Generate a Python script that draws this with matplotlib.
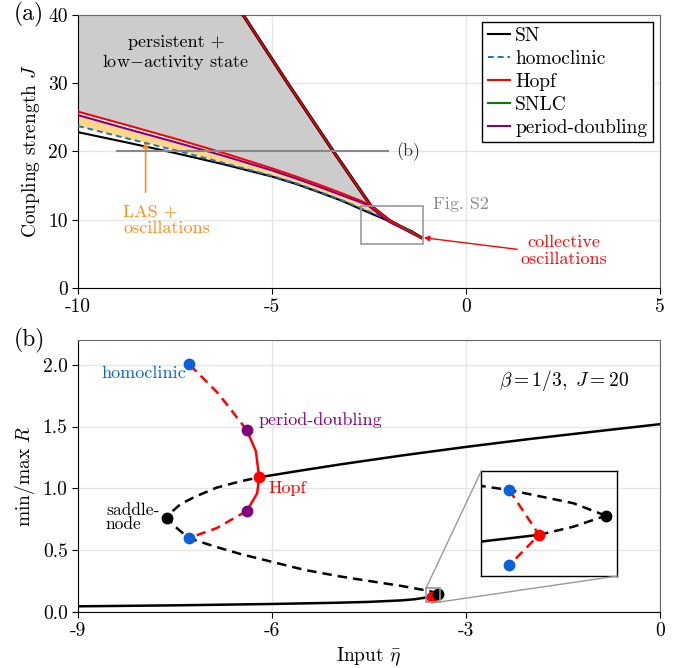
import numpy as np
import matplotlib.pyplot as plt
from matplotlib.patches import Rectangle, ConnectionPatch

plt.rcParams['font.family'] = 'serif'
plt.rcParams['font.serif'] = ['cmr10']
plt.rcParams['mathtext.fontset'] = 'cm'
plt.rcParams['axes.unicode_minus'] = False
plt.rcParams['font.size'] = 14

# ---- panel (a): two-parameter bifurcation diagram ----
sn_low_x = [-10, -8.75, -7.5, -6.25, -5, -4.4, -3.76, -3.2, -2.68, -1.87, -1.4, -1.16]
sn_low_J = [22.8, 21.3, 19.75, 18.1, 16.3, 15.25, 13.95, 12.75, 11.45, 9.5, 8.3, 7.4]
sn_up_x = [-5.75, -4.6, -3.42, -2.45, -1.96, -1.16]
sn_up_J = [40, 30, 20, 12.0, 9.8, 7.4]
hom_x = [-10, -8.75, -7.5, -6.25, -5, -4.4, -3.76, -3.2, -2.68, -2.2]
hom_J = [23.7, 21.9, 20.15, 18.3, 16.4, 15.35, 14.05, 12.85, 11.6, 10.5]
hopf_x = [-10, -8.75, -7.5, -6.25, -5, -4.4, -3.76, -3.2, -2.73, -2.45, -1.96, -1.16]
hopf_J = [25.8, 23.85, 21.85, 19.75, 17.5, 16.35, 15.05, 13.85, 12.8, 12.0, 9.8, 7.4]
pd_x = [-10, -8.75, -7.5, -6.25, -5, -4.4, -3.76, -3.2, -2.56, -1.96, -1.16]
pd_J = [25.3, 23.3, 21.35, 19.35, 17.2, 16.05, 14.75, 13.55, 12.2, 9.6, 7.4]
snlc_x = [-1.87, -1.6, -1.4, -1.2]
snlc_J = [9.5, 8.8, 8.25, 7.5]

# ---- panel (b): one-parameter diagram at J = 20 ----
low_x = [-9, -7.5, -6, -5, -4.5, -4.0, -3.8, -3.62, -3.531]
low_R = [0.045, 0.053, 0.064, 0.074, 0.081, 0.093, 0.102, 0.116, 0.123]
mid_x = [-3.428, -3.478, -3.577, -3.62, -4.0, -4.5, -4.95, -5.5, -6.0, -6.5, -6.86,
         -7.1, -7.29, -7.47, -7.62, -7.55, -7.42, -7.2, -6.86, -6.5, -6.2]
mid_R = [0.143, 0.156, 0.1698, 0.174, 0.21, 0.25, 0.287, 0.34, 0.405, 0.47, 0.525,
         0.565, 0.597, 0.677, 0.758, 0.81, 0.87, 0.93, 1.005, 1.055, 1.089]
mid2_x = [-3.531, -3.478, -3.428]
mid2_R = [0.123, 0.1315, 0.143]
up_x = [-6.2, -5.6, -4.95, -4.0, -3.0, -2.0, -1.0, 0]
up_R = [1.089, 1.14, 1.193, 1.265, 1.335, 1.40, 1.46, 1.519]

lcmax_x = [-6.2, -6.25, -6.39]
lcmax_R = [1.089, 1.3, 1.47]
lcmax_u_x = [-6.39, -6.83, -7.29]
lcmax_u_R = [1.47, 1.766, 2.008]
lcmin_x = [-6.2, -6.23, -6.39]
lcmin_R = [1.089, 0.96, 0.817]
lcmin_u_x = [-6.39, -6.86, -7.29]
lcmin_u_R = [0.817, 0.677, 0.597]
lc2_x = [-3.577, -3.531, -3.577]
lc2_R = [0.1698, 0.123, 0.0912]

hom_pts_x = [-7.29, -7.29]
hom_pts_R = [2.008, 0.597]
hom2_pts_x = [-3.577, -3.577]
hom2_pts_R = [0.1698, 0.0912]
pd_pts_x = [-6.39, -6.39]
pd_pts_R = [1.47, 0.817]
hopf_pts_x = [-6.2, -3.531]
hopf_pts_R = [1.089, 0.123]
sn_pts_x = [-7.62, -3.428]
sn_pts_R = [0.758, 0.143]

c_blue = '#1f77b4'
c_dot = '#0a62d8'
c_purple = '#800080'
c_orange = '#ff8c1a'
dash = (0, (3.8, 2.4))
fs_note = 13

fig = plt.figure(figsize=(6.79, 6.68), dpi=100)
ax1 = fig.add_axes([0.115, 0.569, 0.857, 0.409])
ax2 = fig.add_axes([0.115, 0.084, 0.857, 0.407])

for ax in (ax1, ax2):
    ax.grid(True, color='#e6e6e6', lw=1)
    ax.set_axisbelow(True)
    ax.tick_params(direction='out', length=4, top=False, right=False)
    for s in ('top', 'right'):
        ax.spines[s].set_color('0.4')

# panel (a)
n_gray = hopf_x.index(-2.45) + 1
gx = hopf_x[:n_gray] + sn_up_x[2::-1] + [-10]
gy = hopf_J[:n_gray] + sn_up_J[2::-1] + [40]
ax1.fill(gx, gy, color='#cccccc', lw=0, zorder=1)
ox = hom_x + pd_x[::-1][1:]
oy = hom_J + pd_J[::-1][1:]
ax1.fill(ox, oy, color='#ffd68a', lw=0, zorder=1)

ax1.plot(sn_low_x, sn_low_J, color='k', lw=1.5, zorder=3, label='SN')
ax1.plot(sn_up_x, sn_up_J, color='k', lw=2.4, zorder=3)
ax1.plot(hom_x, hom_J, color=c_blue, lw=1.4, ls=(0, (3, 2)), zorder=4, label='homoclinic')
ax1.plot(hopf_x, hopf_J, color='red', lw=1.5, zorder=4, label='Hopf')
ax1.plot(sn_up_x, sn_up_J, color='red', lw=1.2, zorder=5)
ax1.plot(snlc_x, snlc_J, color='green', lw=1.5, zorder=4, label='SNLC')
ax1.plot(pd_x, pd_J, color=c_purple, lw=1.5, zorder=4, label='period-doubling')

ax1.plot([-9, -2], [20, 20], color='#888888', lw=1.5, zorder=6)
ax1.text(-1.8, 20, '(b)', va='center', ha='left', color='#333333', fontsize=fs_note)
ax1.add_patch(Rectangle((-2.7, 6.5), 1.6, 5.5, fill=False, ec='#999999', lw=1.2, zorder=6))
ax1.text(-0.86, 12.2, 'Fig. S2', va='center', ha='left', color='#888888', fontsize=fs_note)

ax1.text(-7.48, 34.35, 'persistent +\nlow$-$activity state', ha='center', va='center',
         multialignment='center', linespacing=1.1, fontsize=fs_note)
ax1.annotate('', xy=(-8.26, 21.8), xytext=(-8.26, 13.6),
             arrowprops=dict(arrowstyle='-|>', color=c_orange, lw=1.2, mutation_scale=8))
ax1.text(-8.83, 9.95, 'LAS +\noscillations', ha='left', va='center', color=c_orange,
         multialignment='left', linespacing=1.1, fontsize=fs_note)
ax1.annotate('', xy=(-1.16, 7.4), xytext=(1.39, 5.6),
             arrowprops=dict(arrowstyle='-|>', color='red', lw=1.0, mutation_scale=8))
ax1.text(2.53, 5.45, 'collective\noscillations', ha='center', va='center', color='red',
         multialignment='center', linespacing=1.1, fontsize=fs_note)

ax1.set_xlim(-10, 5)
ax1.set_ylim(0, 40)
ax1.set_xticks([-10, -5, 0, 5])
ax1.set_yticks([0, 10, 20, 30, 40])
ax1.set_ylabel('Coupling strength $J$')
leg = ax1.legend(loc='upper right', fancybox=False, edgecolor='k', framealpha=1,
                 handlelength=1.1, handletextpad=0.3, labelspacing=0.25,
                 borderaxespad=0.35, borderpad=0.3)
leg.get_frame().set_linewidth(1.0)


# panel (b)
def draw_branches(ax):
    ax.plot(low_x, low_R, color='k', lw=1.8, zorder=3)
    ax.plot(up_x, up_R, color='k', lw=1.8, zorder=3)
    ax.plot(mid_x, mid_R, color='k', lw=1.8, ls=dash, zorder=3)
    ax.plot(mid2_x, mid2_R, color='k', lw=1.8, ls=dash, zorder=3)
    ax.plot(lcmax_x, lcmax_R, color='red', lw=1.8, zorder=4)
    ax.plot(lcmin_x, lcmin_R, color='red', lw=1.8, zorder=4)
    ax.plot(lcmax_u_x, lcmax_u_R, color='red', lw=1.8, ls=dash, zorder=4)
    ax.plot(lcmin_u_x, lcmin_u_R, color='red', lw=1.8, ls=dash, zorder=4)
    ax.plot(hom_pts_x, hom_pts_R, 'o', color=c_dot, ms=7.5, zorder=5)
    ax.plot(pd_pts_x, pd_pts_R, 'o', color=c_purple, ms=7.5, zorder=5)
    ax.plot(hopf_pts_x, hopf_pts_R, 'o', color='red', ms=7.5, zorder=5)
    ax.plot(sn_pts_x, sn_pts_R, 'o', color='k', ms=7.5, zorder=6)


draw_branches(ax2)
ax2.set_xlim(-9, 0)
ax2.set_ylim(0, 2.2)
ax2.set_xticks([-9, -6, -3, 0])
ax2.set_yticks([0.0, 0.5, 1.0, 1.5, 2.0])
ax2.set_xlabel(r'Input $\bar{\eta}$')
ax2.set_ylabel('min/max $R$')

ax2.text(-7.32, 1.927, 'homoclinic', ha='right', va='center', color=c_dot, fontsize=fs_note)
ax2.text(-6.21, 1.55, 'period-doubling', ha='left', va='center', color=c_purple,
         fontsize=fs_note)
ax2.text(-6.06, 1.0, 'Hopf', ha='left', va='center', color='red', fontsize=fs_note)
ax2.text(-8.57, 0.765, 'saddle-\nnode', ha='left', va='center', linespacing=0.85,
         fontsize=12.5)
ax2.text(-1.49, 1.87, r'$\beta = 1/3,\ J = 20$', ha='center', va='center')

# inset
zx0, zx1, zy0, zy1 = -3.62, -3.41, 0.08, 0.19
axin = fig.add_axes([0.709, 0.1377, 0.2003, 0.1577])
axin.patch.set_alpha(0)
axin.plot(lc2_x, lc2_R, color='red', lw=1.8, ls=dash, zorder=4)
axin.plot(hom2_pts_x, hom2_pts_R, 'o', color=c_dot, ms=7.5, zorder=5)
draw_branches(axin)
axin.set_xlim(zx0, zx1)
axin.set_ylim(zy0, zy1)
axin.set_xticks([])
axin.set_yticks([])
for s in axin.spines.values():
    s.set_linewidth(1.0)

ax2.add_patch(Rectangle((zx0, zy0), zx1 - zx0, zy1 - zy0, fill=False,
                        ec='#999999', lw=1.2, zorder=7))
for pa, pb in (((zx0, zy1), (0, 1)), ((zx1, zy0), (1, 0))):
    con = ConnectionPatch(xyA=pa, coordsA=ax2.transData, xyB=pb, coordsB=axin.transAxes,
                          color='#999999', lw=1.0)
    fig.add_artist(con)

fig.text(0.02, 0.978, '(a)', fontsize=17, va='center', ha='left')
fig.text(0.02, 0.49, '(b)', fontsize=17, va='center', ha='left')

fig.savefig('out.png', dpi=100)
